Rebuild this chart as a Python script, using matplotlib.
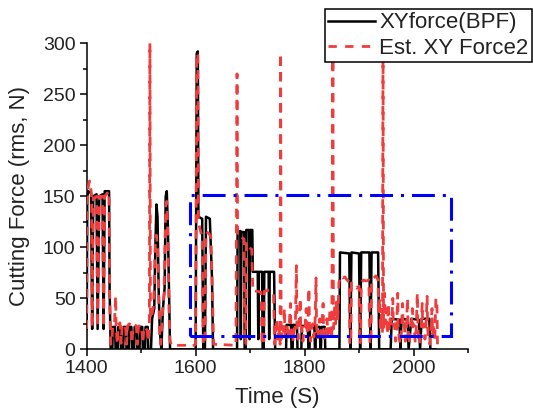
import matplotlib
matplotlib.use("Agg")
import matplotlib.pyplot as plt
from matplotlib.patches import Rectangle
from matplotlib.ticker import MultipleLocator

plt.rcParams['font.family'] = ['Liberation Sans', 'DejaVu Sans']

# Measured cutting force (band-pass filtered), time in s, force in N (rms)
bpf_time = [
    1400, 1401, 1403, 1408, 1410, 1412, 1418, 1420, 1423, 1429, 1431, 1433, 1441, 1442, 1444,
    1447, 1448, 1452, 1453, 1457, 1458, 1462, 1463, 1467, 1468, 1472, 1473, 1477, 1478, 1482,
    1483, 1487, 1488, 1492, 1493, 1497, 1498, 1502, 1503, 1507, 1508, 1512, 1513,
    1518, 1520, 1524, 1526, 1528, 1530, 1532, 1534, 1537, 1540, 1543, 1545, 1547, 1549, 1551, 1553,
    1600, 1602, 1604, 1605, 1612, 1614, 1617, 1619, 1626, 1630, 1632,
    1676, 1677, 1682, 1683, 1684, 1689, 1690, 1692, 1693, 1698, 1699, 1700, 1704, 1705, 1714,
    1715, 1716, 1722, 1723, 1725, 1726, 1734, 1735, 1736, 1744, 1746,
    1760, 1766, 1767, 1775, 1776, 1778, 1779, 1786, 1787, 1794, 1795, 1806, 1807, 1809, 1810,
    1818, 1819, 1820, 1821, 1828, 1829, 1830, 1831, 1837, 1838,
    1864, 1865, 1882, 1884, 1886, 1900, 1902, 1904, 1919, 1921, 1923, 1935, 1937,
    1958, 1960, 1974, 1976, 1978, 1989, 1991, 1996, 2010, 2012, 2015, 2029, 2031, 2040,
]
bpf_force = [
    20, 150, 155, 153, 20, 150, 152, 20, 150, 152, 20, 155, 155, 60, 0,
    0, 22, 22, 0, 0, 22, 22, 0, 0, 22, 22, 0, 0, 22, 22,
    0, 0, 22, 22, 0, 0, 22, 22, 0, 0, 22, 22, 0,
    0, 30, 40, 100, 142, 130, 60, 20, 0, 40, 60, 150, 155, 120, 60, 0,
    0, 290, 292, 130, 128, 0, 0, 130, 128, 70, 0,
    0, 115, 116, 10, 115, 115, 0, 0, 117, 117, 10, 117, 117, 76, 76,
    10, 76, 76, 0, 0, 76, 76, 10, 76, 76, 0,
    0, 0, 24, 24, 0, 0, 24, 24, 0, 0, 23, 23, 0, 0, 23,
    23, 0, 0, 22, 22, 0, 0, 22, 22, 0,
    0, 95, 94, 0, 95, 94, 0, 95, 95, 0, 95, 95, 0,
    0, 30, 29, 0, 30, 29, 0, 30, 29, 0, 30, 30, 0, 0,
]

# Estimated force (model 2), same units
est_time = [
    1400, 1401, 1403, 1405, 1407, 1409, 1410, 1412, 1418, 1420, 1423, 1429, 1431, 1433, 1441,
    1442, 1444, 1446, 1448, 1451, 1453, 1454, 1456, 1458, 1461, 1463, 1465, 1468, 1471, 1473,
    1475, 1478, 1481, 1483, 1485, 1488, 1491, 1493, 1495, 1498, 1501, 1503, 1505, 1508, 1511,
    1513, 1515, 1516, 1517,
    1518, 1520, 1522, 1524, 1526, 1528, 1530, 1532, 1534, 1536, 1539, 1542, 1545, 1547, 1549,
    1551, 1553, 1556, 1598, 1600, 1602, 1604, 1605, 1608, 1612, 1614, 1617, 1619, 1624, 1628,
    1631, 1633, 1674, 1676, 1677, 1684, 1689, 1690, 1692, 1693, 1698, 1703, 1705, 1712, 1720,
    1722, 1725, 1726, 1735, 1743, 1745,
    1747, 1749, 1751, 1753, 1755, 1756, 1757, 1759, 1761, 1763, 1764, 1766, 1768, 1770, 1772,
    1774, 1775, 1777, 1779, 1781, 1783, 1785, 1786, 1788, 1790, 1792, 1793, 1795, 1797, 1799,
    1801, 1803, 1804, 1806, 1808, 1809, 1811, 1813, 1815, 1817, 1819, 1821, 1822, 1824, 1826,
    1828, 1830, 1832, 1834, 1835, 1837, 1839, 1841, 1843, 1845, 1847, 1848, 1850, 1852, 1853,
    1854, 1856, 1857, 1859, 1861, 1863,
    1864, 1866, 1870, 1874, 1878, 1882, 1883, 1885, 1886, 1890, 1895, 1900, 1901, 1903, 1904,
    1908, 1913, 1918, 1920, 1922, 1923, 1927, 1931, 1935, 1936, 1938, 1939, 1941, 1943, 1944,
    1945, 1947, 1948, 1950, 1952, 1954, 1955, 1957, 1959,
    1960, 1962, 1963, 1965, 1967, 1969, 1971, 1972, 1974, 1976, 1978, 1980, 1981, 1983, 1985,
    1987, 1989, 1990, 1992, 1994, 1996, 1998, 1999, 2001, 2003, 2005, 2007, 2008, 2010, 2012,
    2014, 2016, 2017, 2019, 2021, 2023, 2025, 2026, 2028, 2030, 2032, 2034, 2035, 2037, 2039,
    2041, 2043, 2044,
]
est_force = [
    20, 150, 160, 165, 160, 150, 22, 148, 150, 22, 150, 150, 22, 150, 155,
    58, 5, 8, 24, 25, 52, 22, 5, 24, 26, 6, 22, 25, 24, 5,
    23, 25, 24, 6, 22, 24, 23, 5, 22, 24, 22, 6, 20, 22, 18,
    8, 22, 300, 30,
    30, 35, 40, 60, 110, 112, 100, 55, 15, 5, 35, 55, 140, 145, 110,
    40, 8, 4, 4, 5, 290, 288, 125, 118, 110, 5, 5, 115, 114, 110,
    50, 5, 4, 270, 110, 110, 108, 5, 5, 105, 100, 98, 57, 57, 56,
    5, 5, 57, 58, 55, 5,
    15, 30, 10, 22, 5, 290, 10, 22, 18, 40, 12, 20, 22, 10, 25,
    45, 15, 22, 8, 20, 22, 82, 20, 10, 25, 50, 18, 22, 8, 20,
    24, 40, 15, 22, 60, 20, 8, 22, 25, 12, 20, 70, 22, 10, 22,
    30, 15, 24, 45, 18, 8, 20, 30, 15, 25, 40, 18, 10, 300, 20,
    30, 45, 25, 50, 30, 65,
    68, 72, 70, 71, 68, 66, 5, 8, 65, 62, 60, 62, 5, 8, 65,
    68, 67, 68, 5, 10, 68, 70, 72, 68, 35, 50, 20, 35, 15, 300,
    20, 55, 25, 40, 15, 45, 20, 30, 25,
    25, 50, 22, 25, 8, 20, 55, 22, 10, 5, 24, 45, 22, 25, 8,
    22, 50, 20, 5, 22, 25, 40, 22, 24, 8, 20, 55, 20, 8, 5,
    22, 45, 22, 25, 10, 24, 52, 20, 8, 5, 22, 40, 15, 25, 8,
    50, 45, 5,
]

# Highlighted window (time span, force span)
window_time = (1590, 2068)
window_force = (13, 151)

series_labels = ["XYforce(BPF)", "Est. XY Force2"]

RED = '#f03c3c'
BLUE = '#0000ff'

fig = plt.figure(figsize=(5.33, 4.12), dpi=100)
ax = fig.add_axes([0.1627, 0.152, 0.7153, 0.743])

ax.plot(bpf_time, bpf_force, color='black', lw=1.8, zorder=2)
ax.plot(est_time, est_force, color=RED, lw=2.0, dashes=(3.2, 2.4), zorder=3)

rect = Rectangle((window_time[0], window_force[0]),
                 window_time[1] - window_time[0], window_force[1] - window_force[0],
                 fill=False, edgecolor=BLUE, lw=2.2, linestyle=(0, (7.5, 2.6, 1, 2.6)),
                 zorder=4)
ax.add_patch(rect)

ax.set_xlim(1400, 2100)
ax.set_ylim(0, 300)
ax.xaxis.set_major_locator(MultipleLocator(200))
ax.xaxis.set_minor_locator(MultipleLocator(100))
ax.yaxis.set_major_locator(MultipleLocator(50))
ax.yaxis.set_minor_locator(MultipleLocator(25))
ax.set_xticks([1400, 1600, 1800, 2000])
ax.tick_params(which='major', direction='out', length=5, width=1.1, labelsize=14,
               pad=3, labelcolor='#222222')
ax.tick_params(which='minor', direction='out', length=3, width=1.1)
for side in ('top', 'right'):
    ax.spines[side].set_visible(False)
for side in ('left', 'bottom'):
    ax.spines[side].set_linewidth(1.1)

ax.set_xlabel("Time (S)", fontsize=16, labelpad=7, color='#222222')
ax.set_ylabel("Cutting Force (rms, N)", fontsize=16, labelpad=9, color='#222222')

handles = [
    plt.Line2D([], [], color='black', lw=1.8),
    plt.Line2D([], [], color=RED, lw=2.0, dashes=(3, 3)),
]
leg = fig.legend(handles, series_labels, loc='upper right',
                 bbox_to_anchor=(532 / 533, 1 - 9 / 412), fontsize=16,
                 frameon=True, fancybox=False, edgecolor='black', framealpha=1,
                 handlelength=2.1, handletextpad=0.2, borderpad=0.15,
                 labelspacing=0.2, borderaxespad=0)
leg.get_frame().set_linewidth(1.1)
leg.set_zorder(10)
for txt in leg.get_texts():
    txt.set_color('#222222')

fig.savefig("out.png", dpi=100)
